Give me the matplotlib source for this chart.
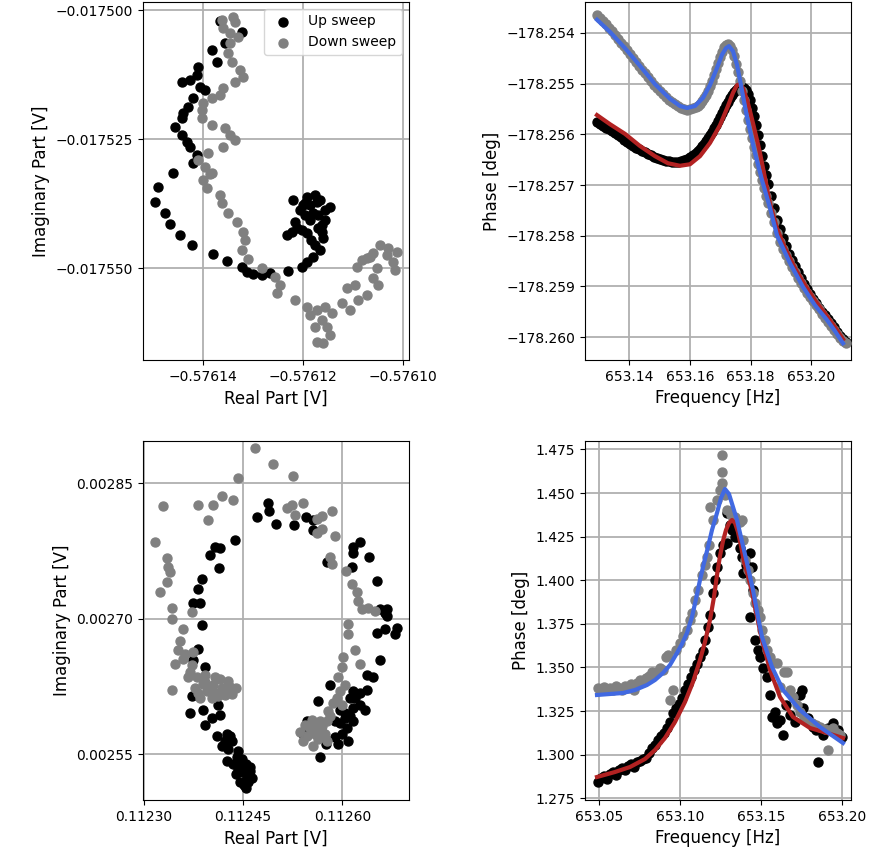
import matplotlib
matplotlib.use("Agg")
import matplotlib.pyplot as plt
from matplotlib.ticker import FuncFormatter

# ---------------- Top-left: IQ plane (sweep 1) ----------------
tl_up_re = [-0.5761366, -0.5761322, -0.5761356, -0.5761382, -0.5761372, -0.5761410, -0.5761412,
            -0.5761442, -0.5761426, -0.5761406, -0.5761396, -0.5761420, -0.5761430, -0.5761440,
            -0.5761442, -0.5761456, -0.5761442, -0.5761432, -0.5761426, -0.5761412, -0.5761420,
            -0.5761460, -0.5761490, -0.5761496, -0.5761476, -0.5761466, -0.5761446, -0.5761422,
            -0.5761380, -0.5761352, -0.5761322, -0.5761312, -0.5761300, -0.5761282, -0.5761266,
            -0.5761230, -0.5761202, -0.5761192, -0.5761180, -0.5761166, -0.5761176, -0.5761160,
            -0.5761162, -0.5761156, -0.5761146, -0.5761172, -0.5761192, -0.5761220, -0.5761206,
            -0.5761186, -0.5761212, -0.5761232, -0.5761192, -0.5761180, -0.5761196,
            -0.5761176, -0.5761166, -0.5761156, -0.5761170, -0.5761202, -0.5761222, -0.5761184,
            -0.5761200, -0.5761186, -0.5761170, -0.5761162, -0.5761196, -0.5761216]
tl_up_im = [-0.0175021, -0.0175043, -0.0175064, -0.0175078, -0.0175101, -0.0175110, -0.0175126,
            -0.0175140, -0.0175136, -0.0175149, -0.0175155, -0.0175171, -0.0175188, -0.0175200,
            -0.0175209, -0.0175227, -0.0175242, -0.0175256, -0.0175266, -0.0175281, -0.0175297,
            -0.0175316, -0.0175343, -0.0175372, -0.0175393, -0.0175415, -0.0175436, -0.0175455,
            -0.0175473, -0.0175486, -0.0175498, -0.0175508, -0.0175512, -0.0175514, -0.0175510,
            -0.0175506, -0.0175498, -0.0175488, -0.0175479, -0.0175465, -0.0175455, -0.0175442,
            -0.0175430, -0.0175407, -0.0175382, -0.0175372, -0.0175362, -0.0175368, -0.0175388,
            -0.0175407, -0.0175423, -0.0175436, -0.0175432, -0.0175393, -0.0175374,
            -0.0175359, -0.0175368, -0.0175388, -0.0175423, -0.0175426, -0.0175430, -0.0175446,
            -0.0175378, -0.0175378, -0.0175397, -0.0175417, -0.0175397, -0.0175411]
tl_dn_re = [-0.5761362, -0.5761340, -0.5761336, -0.5761360, -0.5761346, -0.5761330, -0.5761346,
            -0.5761350, -0.5761342, -0.5761326, -0.5761320, -0.5761336, -0.5761360, -0.5761366,
            -0.5761382, -0.5761400, -0.5761402, -0.5761402, -0.5761382, -0.5761356, -0.5761346,
            -0.5761336, -0.5761360, -0.5761390, -0.5761410, -0.5761396, -0.5761382, -0.5761400,
            -0.5761386, -0.5761392, -0.5761366, -0.5761362, -0.5761350, -0.5761332, -0.5761320,
            -0.5761316, -0.5761322, -0.5761310, -0.5761282, -0.5761256, -0.5761246, -0.5761252,
            -0.5761216, -0.5761192, -0.5761186, -0.5761172, -0.5761156, -0.5761142, -0.5761162,
            -0.5761176, -0.5761152, -0.5761146, -0.5761172, -0.5761160, -0.5761122, -0.5761112,
            -0.5761096, -0.5761090, -0.5761106, -0.5761072, -0.5761060, -0.5761050, -0.5761092,
            -0.5761082, -0.5761066, -0.5761046, -0.5761030, -0.5761012, -0.5761020, -0.5761016,
            -0.5761032, -0.5761060, -0.5761072, -0.5761052]
tl_dn_im = [-0.0175019, -0.0175014, -0.0175023, -0.0175035, -0.0175045, -0.0175052, -0.0175064,
            -0.0175083, -0.0175101, -0.0175116, -0.0175130, -0.0175140, -0.0175151, -0.0175165,
            -0.0175171, -0.0175180, -0.0175194, -0.0175209, -0.0175223, -0.0175229, -0.0175242,
            -0.0175252, -0.0175266, -0.0175277, -0.0175291, -0.0175304, -0.0175316, -0.0175329,
            -0.0175318, -0.0175345, -0.0175359, -0.0175374, -0.0175393, -0.0175411, -0.0175430,
            -0.0175446, -0.0175465, -0.0175483, -0.0175500, -0.0175517, -0.0175533, -0.0175548,
            -0.0175562, -0.0175576, -0.0175591, -0.0175581, -0.0175576, -0.0175587, -0.0175601,
            -0.0175614, -0.0175614, -0.0175630, -0.0175643, -0.0175645, -0.0175568, -0.0175539,
            -0.0175533, -0.0175562, -0.0175581, -0.0175552, -0.0175519, -0.0175533, -0.0175498,
            -0.0175485, -0.0175479, -0.0175455, -0.0175461, -0.0175469, -0.0175488, -0.0175504,
            -0.0175475, -0.0175471, -0.0175481, -0.0175500]

# ---------------- Top-right: phase vs frequency (sweep 1) ----------------
tr_freq = [653.12947, 653.13046, 653.13145, 653.13243, 653.13342, 653.13441, 653.13539, 653.13638,
           653.13737, 653.13836, 653.13934, 653.14033, 653.14132, 653.14230, 653.14329, 653.14428,
           653.14526, 653.14625, 653.14724, 653.14822, 653.14921, 653.15020, 653.15118, 653.15217,
           653.15316, 653.15414, 653.15513, 653.15612, 653.15711, 653.15809, 653.15908, 653.16007,
           653.16105,
           653.16204, 653.16270, 653.16336, 653.16401, 653.16467, 653.16533, 653.16599, 653.16664,
           653.16730, 653.16796, 653.16862, 653.16928, 653.16993, 653.17059, 653.17125, 653.17191,
           653.17257, 653.17322, 653.17388, 653.17454, 653.17520, 653.17586, 653.17651, 653.17717,
           653.17783, 653.17849, 653.17914, 653.17980, 653.18046, 653.18112, 653.18178, 653.18243,
           653.18309, 653.18375, 653.18441, 653.18507, 653.18572,
           653.18671, 653.18770, 653.18868, 653.18967, 653.19066, 653.19164, 653.19263, 653.19362,
           653.19461, 653.19559, 653.19658, 653.19757, 653.19855, 653.19954, 653.20053, 653.20151,
           653.20250, 653.20349, 653.20447, 653.20546, 653.20645, 653.20743, 653.20842, 653.20941,
           653.21039, 653.21138]
tr_up_phase = [-178.25576, -178.25580, -178.25584, -178.25587, -178.25589, -178.25593, -178.25597,
               -178.25601, -178.25605, -178.25611, -178.25615, -178.25619, -178.25623, -178.25627,
               -178.25629, -178.25633, -178.25635, -178.25639, -178.25641, -178.25645, -178.25647,
               -178.25649, -178.25651, -178.25653, -178.25653, -178.25655, -178.25655, -178.25655,
               -178.25653, -178.25651, -178.25649, -178.25645, -178.25641,
               -178.25637, -178.25633, -178.25629, -178.25623, -178.25619, -178.25613, -178.25607,
               -178.25601, -178.25595, -178.25587, -178.25582, -178.25574, -178.25566, -178.25558,
               -178.25550, -178.25542, -178.25536, -178.25528, -178.25522, -178.25516, -178.25512,
               -178.25509, -178.25507, -178.25507, -178.25509, -178.25512, -178.25520, -178.25532,
               -178.25548, -178.25564, -178.25582, -178.25601, -178.25621, -178.25643, -178.25662,
               -178.25680, -178.25698,
               -178.25722, -178.25745, -178.25769, -178.25787, -178.25805, -178.25820, -178.25836,
               -178.25848, -178.25860, -178.25872, -178.25884, -178.25895, -178.25905, -178.25915,
               -178.25925, -178.25933, -178.25943, -178.25951, -178.25957, -178.25964, -178.25972,
               -178.25980, -178.25990, -178.25998, -178.26004, -178.26010]
tr_dn_phase = [-178.25364, -178.25370, -178.25376, -178.25382, -178.25390, -178.25396, -178.25404,
               -178.25412, -178.25420, -178.25426, -178.25434, -178.25441, -178.25449, -178.25457,
               -178.25465, -178.25473, -178.25479, -178.25487, -178.25495, -178.25503, -178.25509,
               -178.25514, -178.25520, -178.25526, -178.25532, -178.25536, -178.25540, -178.25544,
               -178.25548, -178.25550, -178.25552, -178.25550, -178.25548,
               -178.25546, -178.25544, -178.25540, -178.25534, -178.25528, -178.25522, -178.25514,
               -178.25505, -178.25495, -178.25483, -178.25471, -178.25459, -178.25447, -178.25437,
               -178.25428, -178.25424, -178.25422, -178.25426, -178.25434, -178.25445, -178.25461,
               -178.25477, -178.25495, -178.25514, -178.25532, -178.25552, -178.25572, -178.25589,
               -178.25607, -178.25625, -178.25641, -178.25659, -178.25674, -178.25690, -178.25706,
               -178.25722, -178.25736,
               -178.25755, -178.25773, -178.25795, -178.25812, -178.25826, -178.25838, -178.25850,
               -178.25862, -178.25872, -178.25884, -178.25893, -178.25903, -178.25913, -178.25921,
               -178.25929, -178.25937, -178.25945, -178.25955, -178.25962, -178.25970, -178.25978,
               -178.25986, -178.25994, -178.26002, -178.26008, -178.26012]
tr_fit_up_freq = [653.12947, 653.13375, 653.13868, 653.14362, 653.14855, 653.15283, 653.15678,
                  653.16007, 653.16336, 653.16664, 653.16993, 653.17257, 653.17421, 653.17553,
                  653.17651, 653.17750, 653.17882, 653.17980, 653.18079, 653.18211, 653.18309,
                  653.18474, 653.18638, 653.18868, 653.19132, 653.19461, 653.19789, 653.20118,
                  653.20447, 653.20776, 653.21040]
tr_fit_up_phase = [-178.25562, -178.25580, -178.25599, -178.25623, -178.25643, -178.25657, -178.25662,
                   -178.25659, -178.25643, -178.25617, -178.25582, -178.25544, -178.25518, -178.25503,
                   -178.25501, -178.25509, -178.25532, -178.25554, -178.25578, -178.25611, -178.25637,
                   -178.25686, -178.25736, -178.25785, -178.25824, -178.25864, -178.25897, -178.25927,
                   -178.25953, -178.25980, -178.26004]
tr_fit_dn_freq = [653.12947, 653.13375, 653.13868, 653.14362, 653.14855, 653.15349, 653.15678,
                  653.15908, 653.16171, 653.16434, 653.16664, 653.16895, 653.17059, 653.17191,
                  653.17289, 653.17421, 653.17553, 653.17684, 653.17882, 653.18145, 653.18375,
                  653.18638, 653.18868, 653.19296, 653.19724, 653.20118, 653.20513, 653.20776,
                  653.21040]
tr_fit_dn_phase = [-178.25374, -178.25398, -178.25430, -178.25465, -178.25501, -178.25530, -178.25544,
                   -178.25548, -178.25544, -178.25528, -178.25503, -178.25469, -178.25443, -178.25430,
                   -178.25426, -178.25436, -178.25463, -178.25503, -178.25566, -178.25637, -178.25690,
                   -178.25745, -178.25799, -178.25854, -178.25901, -178.25937, -178.25966, -178.25988,
                   -178.26012]

# ---------------- Bottom-left: IQ plane (sweep 2) ----------------
bl_up_re = [0.1124874, 0.1124889, 0.1124708, 0.1124995, 0.1125268, 0.1125450, 0.1125556, 0.1125556,
            0.1125768, 0.1124374, 0.1124147, 0.1124071, 0.1123996, 0.1124132, 0.1123874, 0.1123814,
            0.1123738, 0.1123844, 0.1126162, 0.1126268, 0.1126162, 0.1126404, 0.1126147, 0.1126526,
            0.1126677, 0.1126647, 0.1123874, 0.1123814, 0.1123738, 0.1123920, 0.1123723, 0.1123693,
            0.1123889, 0.1123920, 0.1124117, 0.1124147, 0.1124102, 0.1124253, 0.1124299, 0.1124177,
            0.1124268, 0.1124253, 0.1124344, 0.1124450, 0.1124495, 0.1124556, 0.1124450, 0.1124571,
            0.1126571, 0.1126677, 0.1126829, 0.1126798, 0.1126526, 0.1126647, 0.1126571, 0.1126374,
            0.1126465, 0.1125814, 0.1126374, 0.1126162, 0.1125632, 0.1126268, 0.1126344, 0.1126162,
            0.1126162, 0.1126071, 0.1125889, 0.1125889, 0.1125465, 0.1125404, 0.1125662,
            0.1124405, 0.1124526, 0.1124602, 0.1124389, 0.1124511, 0.1126041, 0.1125965, 0.1126117,
            0.1125995, 0.1125753,
            0.1124329, 0.1124420, 0.1124480, 0.1124541, 0.1124602, 0.1124632, 0.1124541, 0.1124420,
            0.1124223, 0.1124026,
            0.1125965, 0.1126041, 0.1126117, 0.1126192, 0.1126268, 0.1126086, 0.1125935]
bl_up_im = [0.0028287, 0.0028197, 0.0028129, 0.0028049, 0.0028038, 0.0028129, 0.0028095, 0.0027981,
            0.0027631, 0.0027868, 0.0027778, 0.0027789, 0.0027710, 0.0027563, 0.0027438, 0.0027325,
            0.0027178, 0.0027178, 0.0027789, 0.0027846, 0.0027732, 0.0027687, 0.0027574, 0.0027415,
            0.0027110, 0.0027065, 0.0026929, 0.0026668, 0.0026544, 0.0026465, 0.0026148, 0.0025955,
            0.0025989, 0.0025819, 0.0026046, 0.0025933, 0.0025706, 0.0025729, 0.0025706, 0.0025593,
            0.0025559, 0.0025423, 0.0025389, 0.0025367, 0.0025299, 0.0025253, 0.0025197, 0.0025197,
            0.0027110, 0.0027031, 0.0026895, 0.0026827, 0.0026838, 0.0026883, 0.0026544, 0.0026374,
            0.0026351, 0.0026261, 0.0026216, 0.0026204, 0.0026091, 0.0026046, 0.0025989, 0.0026012,
            0.0025865, 0.0025785, 0.0025865, 0.0025695, 0.0025865, 0.0025729, 0.0025468,
            0.0025468, 0.0025355, 0.0025310, 0.0025276, 0.0025163, 0.0025899, 0.0025989, 0.0026125,
            0.0025729, 0.0025616,
            0.0025650, 0.0025536, 0.0025446, 0.0025389, 0.0025355, 0.0025242, 0.0025129, 0.0025333,
            0.0025650, 0.0025899,
            0.0025842, 0.0025955, 0.0025921, 0.0026125, 0.0026182, 0.0025650, 0.0025616]
bl_dn_re = [0.1124677, 0.1124950, 0.1125253, 0.1124420, 0.1123283, 0.1123814, 0.1124041, 0.1124177,
            0.1124344, 0.1123965, 0.1125162, 0.1125238, 0.1125404, 0.1125283, 0.1125617, 0.1125692,
            0.1125844, 0.1125692, 0.1125617, 0.1125889, 0.1123162, 0.1123344, 0.1123359, 0.1123390,
            0.1123344, 0.1123238, 0.1123420, 0.1123723, 0.1125814, 0.1125844, 0.1126056, 0.1126147,
            0.1126223, 0.1126238, 0.1126298, 0.1126389, 0.1126495, 0.1123420, 0.1123586, 0.1123541,
            0.1123511, 0.1123465, 0.1123617, 0.1123738, 0.1123693, 0.1123799, 0.1123889, 0.1123768,
            0.1123950, 0.1124041, 0.1124177, 0.1124299, 0.1124223, 0.1123844, 0.1123420, 0.1126086,
            0.1126086, 0.1126192, 0.1126010, 0.1126268, 0.1125995, 0.1125935, 0.1126041, 0.1125920,
            0.1125995, 0.1125783, 0.1125662, 0.1125556, 0.1125465, 0.1125556, 0.1125768, 0.1125692,
            0.1125768, 0.1123920, 0.1124071, 0.1124147, 0.1124026, 0.1124329, 0.1125511, 0.1125632,
            0.1125404, 0.1125586, 0.1125738,
            0.1123662, 0.1123814, 0.1123996, 0.1124117, 0.1124268, 0.1123920, 0.1123723, 0.1123586,
            0.1124071, 0.1124389,
            0.1125435, 0.1125541, 0.1125632, 0.1125692, 0.1125359, 0.1125814, 0.1125859, 0.1125965]
bl_dn_im = [0.0028887, 0.0028717, 0.0028581, 0.0028559, 0.0028253, 0.0028264, 0.0028264, 0.0028355,
            0.0028310, 0.0028095, 0.0028230, 0.0028264, 0.0028276, 0.0028151, 0.0028106, 0.0028140,
            0.0028197, 0.0027993, 0.0027947, 0.0027914, 0.0027846, 0.0027676, 0.0027574, 0.0027517,
            0.0027404, 0.0027291, 0.0027121, 0.0027076, 0.0027687, 0.0027608, 0.0027529, 0.0027381,
            0.0027291, 0.0027200, 0.0027110, 0.0027121, 0.0027087, 0.0026997, 0.0026883, 0.0026748,
            0.0026657, 0.0026499, 0.0026612, 0.0026634, 0.0026408, 0.0026351, 0.0026272, 0.0026238,
            0.0026204, 0.0026261, 0.0026238, 0.0026249, 0.0026159, 0.0026125, 0.0026216, 0.0026940,
            0.0026827, 0.0026657, 0.0026578, 0.0026499, 0.0026465, 0.0026351, 0.0026261, 0.0026125,
            0.0026046, 0.0025978, 0.0025865, 0.0025808, 0.0025706, 0.0025593, 0.0025650, 0.0025751,
            0.0025865, 0.0026295, 0.0026182, 0.0026329, 0.0026125, 0.0026170, 0.0025785, 0.0025672,
            0.0025650, 0.0025729, 0.0025729,
            0.0026351, 0.0026182, 0.0026238, 0.0026148, 0.0026306, 0.0026374, 0.0026487, 0.0026555,
            0.0026351, 0.0026238,
            0.0025819, 0.0025876, 0.0025763, 0.0025808, 0.0025751, 0.0025921, 0.0026068, 0.0026204]

# ---------------- Bottom-right: phase vs frequency (sweep 2) ----------------
br_up_freq = [653.04938, 653.05123, 653.05309, 653.05494, 653.05679, 653.05864, 653.06049, 653.06235,
              653.06420, 653.06605, 653.06790, 653.06975, 653.07160, 653.07346, 653.07531, 653.07716,
              653.07901, 653.08086, 653.08272, 653.08457, 653.08642, 653.08827, 653.09012, 653.09198,
              653.09383, 653.09568, 653.09753, 653.09938, 653.10123, 653.10309, 653.10494, 653.10679,
              653.10864, 653.11049, 653.11235, 653.11420, 653.11543, 653.11728, 653.11852, 653.12037,
              653.12160, 653.12284, 653.12469, 653.12654, 653.12901, 653.12901, 653.13086, 653.13210,
              653.13395, 653.13518, 653.13704, 653.13827, 653.13889, 653.14074, 653.14321, 653.14444,
              653.14506, 653.14321, 653.14630, 653.14815, 653.14938, 653.15123, 653.15370, 653.15556,
              653.15679, 653.15864, 653.15988, 653.16173, 653.16358, 653.16543, 653.16790, 653.17099,
              653.17407, 653.17531, 653.17593, 653.17901, 653.18210, 653.18395, 653.18519, 653.18827,
              653.19136, 653.19444, 653.19753, 653.20000]
br_up_phase = [1.28434, 1.28664, 1.28779, 1.28606, 1.28893, 1.29008, 1.28835, 1.29122, 1.29237, 1.29122,
               1.29352, 1.29466, 1.29294, 1.29581, 1.29639, 1.29753, 1.29811, 1.30097, 1.30384, 1.30556,
               1.30843, 1.31072, 1.31244, 1.31531, 1.31875, 1.32391, 1.32678, 1.32907, 1.33251, 1.33710,
               1.34054, 1.34455, 1.34856, 1.35200, 1.35602, 1.35946, 1.36577, 1.37322, 1.38010, 1.39272,
               1.40017, 1.40763, 1.41565, 1.42024, 1.42139, 1.43859, 1.43171, 1.42884, 1.42483, 1.42483,
               1.41852, 1.41336, 1.40419, 1.40877, 1.41565, 1.40763, 1.39444, 1.37896, 1.36577, 1.36003,
               1.35602, 1.34971, 1.34455, 1.33423, 1.32162, 1.32448, 1.31818, 1.31990, 1.31129, 1.32850,
               1.32276, 1.31875, 1.33423, 1.33710, 1.32678, 1.32104, 1.31588, 1.31416, 1.29581, 1.31129,
               1.31531, 1.31818, 1.31416, 1.31015]
br_dn_freq = [653.04938, 653.05123, 653.05309, 653.05494, 653.05679, 653.05864, 653.06049, 653.06235,
              653.06420, 653.06605, 653.06790, 653.06975, 653.07160, 653.07346, 653.07531, 653.07716,
              653.07901, 653.08086, 653.08272, 653.08457, 653.08580, 653.08765, 653.08951, 653.09136,
              653.09259, 653.09383, 653.09568, 653.09753, 653.10000, 653.10185, 653.10432, 653.10617,
              653.10741, 653.10926, 653.11111, 653.11358, 653.11543, 653.11667, 653.11790, 653.11852,
              653.12037, 653.12284, 653.12469, 653.12593, 653.12593, 653.12593, 653.12778, 653.12901,
              653.13148, 653.13395, 653.13704, 653.13827, 653.13889, 653.14012, 653.14198, 653.14321,
              653.14506, 653.14630, 653.14815, 653.14938, 653.15062, 653.15247, 653.15370, 653.15556,
              653.15741, 653.15988, 653.16173, 653.16420, 653.16605, 653.16790, 653.16975, 653.17222,
              653.17407, 653.17654, 653.17840, 653.18148, 653.18395, 653.18642, 653.18951, 653.19259,
              653.19444, 653.19691, 653.19877, 653.19136]
br_dn_phase = [1.33824, 1.33710, 1.33882, 1.33710, 1.33824, 1.33710, 1.33939, 1.33824, 1.33710, 1.33939,
               1.33824, 1.34054, 1.33710, 1.34111, 1.34283, 1.34168, 1.34398, 1.34513, 1.34742, 1.34627,
               1.34742, 1.34971, 1.34856, 1.35602, 1.35717, 1.33136, 1.33710, 1.36003, 1.36405, 1.36806,
               1.37150, 1.37724, 1.38125, 1.38870, 1.39444, 1.40304, 1.40877, 1.41336, 1.42024, 1.44203,
               1.43458, 1.44604, 1.45178, 1.45579, 1.46210, 1.47185, 1.44891, 1.44031, 1.43744, 1.43630,
               1.43343, 1.43458, 1.42311, 1.41164, 1.40591, 1.40017, 1.39272, 1.38698, 1.38297, 1.37896,
               1.37150, 1.36577, 1.36003, 1.35602, 1.35258, 1.35258, 1.33882, 1.34742, 1.34742, 1.33710,
               1.33308, 1.32850, 1.32448, 1.32104, 1.31990, 1.31818, 1.31703, 1.31588, 1.31474, 1.31416,
               1.31531, 1.31244, 1.31129, 1.30269]
br_fit_up_freq = [653.04877, 653.05988, 653.06914, 653.07840, 653.08457, 653.09074, 653.09691, 653.10309,
                  653.10802, 653.11235, 653.11543, 653.11852, 653.12099, 653.12284, 653.12469, 653.12654,
                  653.12840, 653.13025, 653.13210, 653.13395, 653.13580, 653.13765, 653.13951, 653.14198,
                  653.14444, 653.14691, 653.15062, 653.15556, 653.16173, 653.16975, 653.18025, 653.19074,
                  653.20062]
br_fit_up_phase = [1.28721, 1.29008, 1.29294, 1.29753, 1.30269, 1.30957, 1.31875, 1.33022, 1.34168,
                   1.35430, 1.36462, 1.37724, 1.39042, 1.40304, 1.41393, 1.42253, 1.42884, 1.43285,
                   1.43458, 1.43285, 1.42769, 1.41967, 1.41049, 1.40246, 1.39329, 1.38182, 1.36577,
                   1.34856, 1.33308, 1.32162, 1.31531, 1.31244, 1.30957]
br_fit_dn_freq = [653.04877, 653.05679, 653.06481, 653.07222, 653.07963, 653.08457, 653.08951, 653.09383,
                  653.09815, 653.10123, 653.10432, 653.10741, 653.10988, 653.11235, 653.11481, 653.11728,
                  653.11975, 653.12284, 653.12531, 653.12778, 653.13025, 653.13272, 653.13518, 653.13704,
                  653.14136, 653.14506, 653.14815, 653.15062, 653.15679, 653.16358, 653.17407, 653.18642,
                  653.20062]
br_fit_dn_phase = [1.33423, 1.33480, 1.33538, 1.33710, 1.33996, 1.34283, 1.34685, 1.35143, 1.35831,
                   1.36347, 1.36978, 1.37896, 1.38928, 1.40017, 1.40992, 1.41909, 1.42884, 1.43859,
                   1.44719, 1.45235, 1.44948, 1.44203, 1.43458, 1.42712, 1.40992, 1.39444, 1.37896,
                   1.36749, 1.35029, 1.33710, 1.32563, 1.31588, 1.30671]

# tick labels
tl_xticks = [-0.57614, -0.57612, -0.57610]
tl_yticks = [-0.017500, -0.017525, -0.017550]
tr_xticks = [653.14, 653.16, 653.18, 653.20]
tr_yticks = [-178.254, -178.255, -178.256, -178.257, -178.258, -178.259, -178.260]
bl_xticks = [0.11230, 0.11245, 0.11260]
bl_yticks = [0.00255, 0.00270, 0.00285]
br_xticks = [653.05, 653.10, 653.15, 653.20]
br_yticks = [1.275, 1.300, 1.325, 1.350, 1.375, 1.400, 1.425, 1.450, 1.475]

# ---------------- drawing ----------------
W, H = 879, 867
fig = plt.figure(figsize=(W / 100, H / 100), dpi=100)


def rect(l, r, t, b):
    return [l / W, 1 - b / H, (r - l) / W, (b - t) / H]


def fmt(nd):
    return FuncFormatter(lambda v, p: ('{:.%df}' % nd).format(v).replace('-', '\u2212'))


ax_tl = fig.add_axes(rect(143, 409, 2, 360))
ax_tr = fig.add_axes(rect(585, 851, 2, 360))
ax_bl = fig.add_axes(rect(143, 409, 441, 800))
ax_br = fig.add_axes(rect(585, 851, 441, 800))

S = 42
UPC = 'black'
DNC = 'grey'
RED = 'firebrick'
BLUE = 'royalblue'
LW = 3.0

for ax in (ax_tl, ax_tr, ax_bl, ax_br):
    ax.grid(True, color='#b0b0b0', linewidth=1.3)
    ax.set_axisbelow(True)
    ax.tick_params(labelsize=10)

ax_tl.scatter(tl_up_re, tl_up_im, s=S, color=UPC, label='Up sweep', zorder=2)
ax_tl.scatter(tl_dn_re, tl_dn_im, s=S, color=DNC, label='Down sweep', zorder=3)
ax_tl.set_xlim(-0.576152, -0.5760988)
ax_tl.set_ylim(-0.0175678, -0.0174984)
ax_tl.set_xticks(tl_xticks)
ax_tl.set_yticks(tl_yticks)
ax_tl.xaxis.set_major_formatter(fmt(5))
ax_tl.yaxis.set_major_formatter(fmt(6))
ax_tl.set_xlabel('Real Part [V]', fontsize=12)
ax_tl.set_ylabel('Imaginary Part [V]', fontsize=12)
ax_tl.legend(loc='upper right', fontsize=10)

ax_tr.scatter(tr_freq, tr_up_phase, s=S, color=UPC, zorder=2)
ax_tr.scatter(tr_freq, tr_dn_phase, s=S, color=DNC, zorder=3)
ax_tr.plot(tr_fit_up_freq, tr_fit_up_phase, color=RED, lw=LW, zorder=4)
ax_tr.plot(tr_fit_dn_freq, tr_fit_dn_phase, color=BLUE, lw=LW, zorder=5)
ax_tr.set_xlim(653.12553, 653.21303)
ax_tr.set_ylim(-178.26045, -178.25339)
ax_tr.set_xticks(tr_xticks)
ax_tr.set_yticks(tr_yticks)
ax_tr.xaxis.set_major_formatter(fmt(2))
ax_tr.yaxis.set_major_formatter(fmt(3))
ax_tr.set_xlabel('Frequency [Hz]', fontsize=12)
ax_tr.set_ylabel('Phase [deg]', fontsize=12)

ax_bl.scatter(bl_up_re, bl_up_im, s=S, color=UPC, zorder=2)
ax_bl.scatter(bl_dn_re, bl_dn_im, s=S, color=DNC, zorder=3)
ax_bl.set_xlim(0.1122985, 0.1127010)
ax_bl.set_ylim(0.0024993, 0.0028968)
ax_bl.set_xticks(bl_xticks)
ax_bl.set_yticks(bl_yticks)
ax_bl.xaxis.set_major_formatter(fmt(5))
ax_bl.yaxis.set_major_formatter(fmt(5))
ax_bl.set_xlabel('Real Part [V]', fontsize=12)
ax_bl.set_ylabel('Imaginary Part [V]', fontsize=12)

ax_br.scatter(br_up_freq, br_up_phase, s=S, color=UPC, zorder=2)
ax_br.scatter(br_dn_freq, br_dn_phase, s=S, color=DNC, zorder=3)
ax_br.plot(br_fit_up_freq, br_fit_up_phase, color=RED, lw=LW, zorder=4)
ax_br.plot(br_fit_dn_freq, br_fit_dn_phase, color=BLUE, lw=LW, zorder=5)
ax_br.set_xlim(653.04136, 653.20556)
ax_br.set_ylim(1.27402, 1.47987)
ax_br.set_xticks(br_xticks)
ax_br.set_yticks(br_yticks)
ax_br.xaxis.set_major_formatter(fmt(2))
ax_br.yaxis.set_major_formatter(fmt(3))
ax_br.set_xlabel('Frequency [Hz]', fontsize=12)
ax_br.set_ylabel('Phase [deg]', fontsize=12)

fig.savefig('out.png', dpi=100)
